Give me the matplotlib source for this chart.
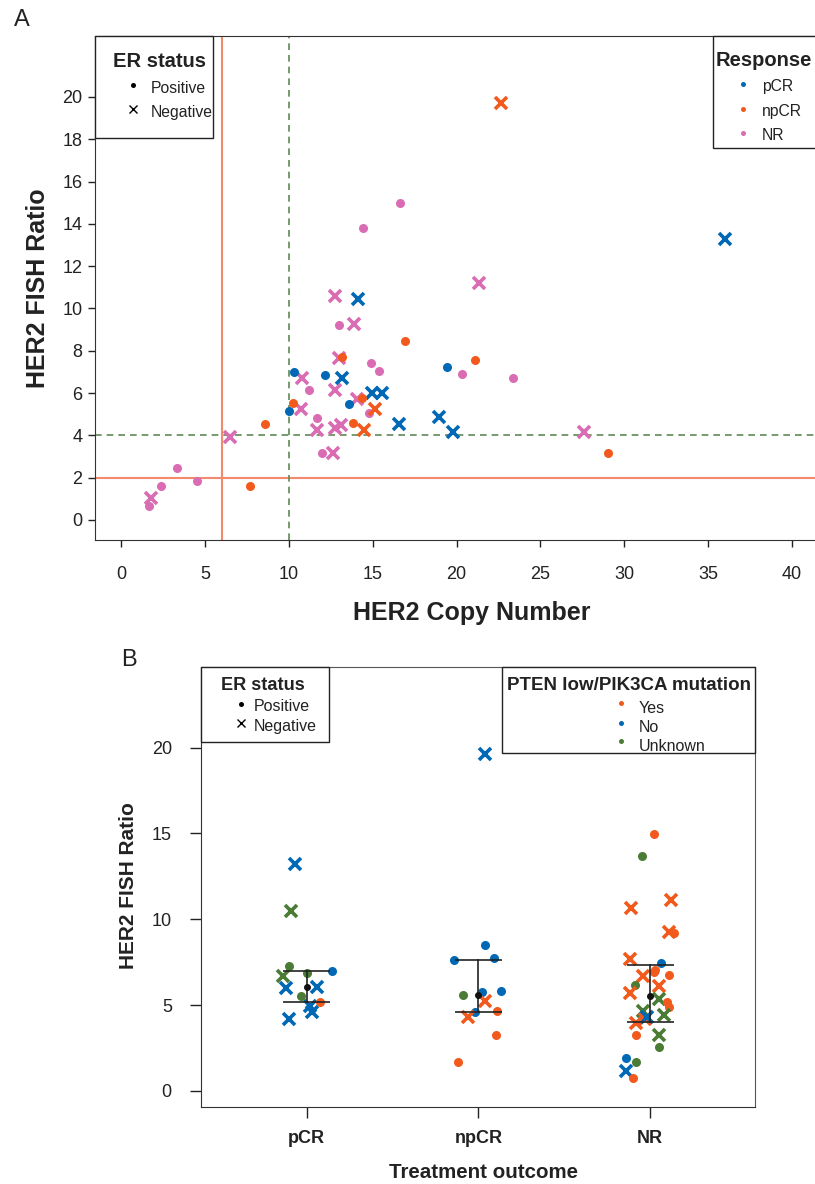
import matplotlib
matplotlib.use('Agg')
import matplotlib.pyplot as plt
from matplotlib.lines import Line2D
from matplotlib.patches import Rectangle
from matplotlib.transforms import Affine2D
import numpy as np

plt.rcParams['font.family'] = ['Liberation Sans', 'DejaVu Sans']

# ---- panel A: copy number vs FISH ratio ----
copy_number = [10.03, 10.31, 12.17, 13.59, 19.41,
               14.14, 13.17, 14.93, 15.55, 16.58, 18.97, 19.8, 35.97,
               7.71, 8.56, 10.27, 13.2, 14.34, 13.84, 16.9, 21.11, 29.04,
               15.16, 14.51, 22.65,
               14.44, 16.63, 13.0, 14.92, 15.39, 11.2, 14.8, 11.7, 11.96, 3.36, 2.4, 4.53, 1.69, 20.34, 23.36,
               12.75, 13.89, 13.0, 10.79, 12.75, 14.08, 10.7, 11.66, 12.77, 13.09, 12.65, 6.5, 1.77, 21.31, 27.59]
fish_ratio = [5.15, 6.97, 6.87, 5.47, 7.22,
              10.45, 6.71, 5.99, 6.02, 4.54, 4.86, 4.16, 13.29,
              1.58, 4.54, 5.52, 7.69, 5.75, 4.57, 8.46, 7.57, 3.15,
              5.26, 4.26, 19.73,
              13.79, 14.99, 9.22, 7.41, 7.06, 6.13, 5.07, 4.82, 3.18, 2.46, 1.58, 1.84, 0.65, 6.89, 6.70,
              10.6, 9.25, 7.64, 6.70, 6.15, 5.71, 5.26, 4.26, 4.35, 4.51, 3.15, 3.91, 1.05, 11.22, 4.18]
er_status = (['pos'] * 5 + ['neg'] * 8 + ['pos'] * 9 + ['neg'] * 3 + ['pos'] * 15 + ['neg'] * 15)
response = ['pCR'] * 13 + ['npCR'] * 12 + ['NR'] * 30

# ---- panel B: FISH ratio by treatment outcome (x = jittered group position) ----
outcomes = ['pCR', 'npCR', 'NR']
b_pos = [0.93, 0.91, 0.86, 0.88, 1.06, 1.02, 1.03, 0.90, 0.90, 1.00, 1.15, 0.97, 1.08,
         2.04, 2.04, 1.86, 2.09, 1.91, 2.02, 2.13, 2.04, 1.98, 2.11, 1.94, 2.10, 1.88,
         3.02, 2.95, 3.12, 2.89, 3.11, 3.14, 2.88, 3.06, 3.03, 3.02, 3.11, 2.96, 2.91, 3.05,
         2.88, 3.05, 3.10, 3.11, 2.96, 3.08, 2.97, 2.98, 2.92, 2.92, 3.05, 3.05, 2.86, 2.92, 2.86, 2.90]
b_ratio = [13.22, 10.5, 6.72, 6.02, 6.05, 4.92, 4.57, 4.18, 7.25, 6.88, 6.98, 5.52, 5.17,
           19.65, 8.49, 7.62, 7.74, 5.60, 5.75, 5.85, 5.21, 4.59, 4.65, 4.33, 3.25, 1.69,
           14.97, 13.70, 11.14, 10.63, 9.25, 9.21, 7.70, 7.45, 7.02, 6.90, 6.74, 6.71, 6.16, 6.14,
           5.68, 5.35, 5.17, 4.88, 4.66, 4.41, 4.20, 4.28, 3.98, 3.28, 3.25, 2.58, 1.94, 1.67, 1.17, 0.78]
b_er = ['neg'] * 8 + ['pos'] * 5 + \
       ['neg', 'pos', 'pos', 'pos', 'pos', 'pos', 'pos', 'neg', 'pos', 'pos', 'neg', 'pos', 'pos'] + \
       ['pos', 'pos', 'neg', 'neg', 'neg', 'pos', 'neg', 'pos', 'pos', 'pos', 'pos', 'neg', 'pos', 'neg',
        'neg', 'neg', 'pos', 'pos', 'neg', 'neg', 'neg', 'neg', 'neg', 'pos', 'neg', 'pos', 'pos', 'pos', 'neg', 'pos']
b_pten = ['No', 'Unknown', 'Unknown', 'No', 'No', 'No', 'No', 'No', 'Unknown', 'Unknown', 'No', 'Unknown', 'Yes',
          'No', 'No', 'No', 'No', 'Unknown', 'No', 'No', 'Yes', 'No', 'Yes', 'Yes', 'Yes', 'Yes',
          'Yes', 'Unknown', 'Yes', 'Yes', 'Yes', 'Yes', 'Yes', 'No', 'Yes', 'Yes', 'Yes', 'Yes', 'Unknown', 'Yes',
          'Yes', 'Unknown', 'Yes', 'Yes', 'Unknown', 'Unknown', 'Yes', 'No', 'Yes', 'Yes', 'Unknown', 'Unknown',
          'No', 'Unknown', 'No', 'Yes']
b_group = ['pCR'] * 13 + ['npCR'] * 13 + ['NR'] * 30
pten_levels = ['Yes', 'No', 'Unknown']
er_labels = ['Positive', 'Negative']

resp_colors = {'pCR': '#0068b5', 'npCR': '#f25a1d', 'NR': '#d96cb2'}
pten_colors = {'Yes': '#f25a1d', 'No': '#0068b5', 'Unknown': '#4a7c35'}

W, H = 815, 1184
fig = plt.figure(figsize=(W / 100, H / 100), dpi=100)
# pixel coordinates measured from the top-left corner of the figure
px = Affine2D().scale(1 / W, -1 / H).translate(0, 1) + fig.transFigure


def draw_point(ax, x, y, er, color):
    if er == 'pos':
        ax.plot(x, y, 'o', color=color, markersize=6.5, markeredgewidth=0)
    else:
        ax.plot(x, y, 'x', color=color, markersize=8.5, markeredgewidth=2.6)


def box_legend(box, title, title_pos, title_size, labels, markers, colors, mark_x, mark_y,
               text_x, text_y, text_size):
    x0, y0, x1, y1 = box
    fig.add_artist(Rectangle((x0, y0), x1 - x0, y1 - y0, transform=px, facecolor='white',
                             edgecolor='#222222', lw=1.0, zorder=10))
    fig.text(title_pos[0], title_pos[1], title, transform=px, fontsize=title_size,
             fontweight='bold', color='#222222', va='baseline', zorder=11)
    for lab, m, c, my, ty in zip(labels, markers, colors, mark_y, text_y):
        if m == 'o':
            fig.add_artist(Line2D([mark_x], [my], transform=px, marker='o', color=c,
                                  markersize=3.6, markeredgewidth=0, linestyle='', zorder=11))
        else:
            fig.add_artist(Line2D([mark_x], [my], transform=px, marker='x', color=c,
                                  markersize=5.5, markeredgewidth=1, linestyle='', zorder=11))
        fig.text(text_x, ty, lab, transform=px, fontsize=text_size, color='#222222',
                 va='baseline', zorder=11)


# ================= panel A =================
ax = fig.add_axes([95 / W, 1 - 540 / H, 725 / W, 504 / H])
ax.axvline(6, color='#f28a6b', lw=1.5, zorder=1)
ax.axhline(2, color='#f28a6b', lw=1.5, zorder=1)
ax.axvline(10, color='#5f8a55', lw=1.2, ls=(0, (4, 3)), zorder=1)
ax.axhline(4, color='#5f8a55', lw=1.2, ls=(0, (4, 3)), zorder=1)

for grp in ['NR', 'pCR', 'npCR']:
    for x, y, er, r in zip(copy_number, fish_ratio, er_status, response):
        if r == grp:
            draw_point(ax, x, y, er, resp_colors[r])

ax.set_xlim(-1.55, 41.66)
ax.set_ylim(-0.95, 22.88)
ax.set_xticks(np.arange(0, 41, 5))
ax.set_yticks(np.arange(0, 21, 2))
ax.tick_params(direction='out', length=5, width=1, labelsize=13, colors='#222222')
ax.tick_params(axis='x', pad=14)
ax.tick_params(axis='y', pad=4)
for s in ax.spines.values():
    s.set_color('#333333')
ax.set_xlabel('HER2 Copy Number', fontsize=18, fontweight='bold', color='#222222')
ax.set_ylabel('HER2 FISH Ratio', fontsize=18, fontweight='bold', color='#222222')
ax.xaxis.set_label_coords(0.52, -0.122)
ax.yaxis.set_label_coords(-0.062, 0.5)

box_legend((95, 36, 213, 138), 'ER status', (113, 67), 14.5, er_labels, ['o', 'x'],
           ['black', 'black'], 133, [85, 109], 151, [93, 116.5], 11.3)
box_legend((713, 36, 840, 148.3), 'Response', (716, 65.5), 14.5, outcomes, ['o', 'o', 'o'],
           [resp_colors[r] for r in outcomes], 743, [84.3, 108.7, 132.7], 762,
           [91.5, 116, 140], 11.3)

# ================= panel B =================
bx = fig.add_axes([201 / W, 1 - 1106.7 / H, 554 / W, 439.7 / H])
for x, y, er, p in zip(b_pos, b_ratio, b_er, b_pten):
    draw_point(bx, x, y, er, pten_colors[p])

for i, g in enumerate(outcomes, start=1):
    vals = np.array([v for v, gg in zip(b_ratio, b_group) if gg == g])
    q1, med, q3 = np.percentile(vals, [25, 50, 75])
    bx.plot([i, i], [q1, q3], color='#222222', lw=1.4, zorder=5, alpha=0.85)
    bx.plot([i - 0.13, i + 0.13], [q1, q1], color='#222222', lw=1.4, zorder=5, alpha=0.85)
    bx.plot([i - 0.13, i + 0.13], [q3, q3], color='#222222', lw=1.4, zorder=5, alpha=0.85)
    bx.plot(i, med, 'o', color='#111111', markersize=4, zorder=6)

bx.set_xlim(0.385, 3.61)
bx.set_ylim(-0.92, 24.7)
bx.set_xticks([1, 2, 3])
bx.set_xticklabels(outcomes, fontweight='bold')
bx.set_yticks([0, 5, 10, 15, 20])
bx.tick_params(direction='out', length=8, width=1, labelsize=13, colors='#222222')
bx.tick_params(axis='x', pad=9)
bx.tick_params(axis='y', pad=13)
for s in bx.spines.values():
    s.set_color('#333333')
for s in ['top', 'right']:
    bx.spines[s].set_color('#555555')
    bx.spines[s].set_linewidth(0.8)
bx.set_xlabel('Treatment outcome', fontsize=14.8, fontweight='bold', color='#222222')
bx.set_ylabel('HER2 FISH Ratio', fontsize=15, fontweight='bold', color='#222222')
bx.xaxis.set_label_coords(0.51, -0.128)
bx.yaxis.set_label_coords(-0.114, 0.504)

box_legend((201, 667, 329, 742), 'ER status', (221, 690), 13.1, er_labels, ['o', 'x'],
           ['black', 'black'], 241, [704, 723.3], 254, [711, 731.5], 11.5)
box_legend((502, 667, 755, 753), 'PTEN low/PIK3CA mutation', (507, 690.5), 13.5, pten_levels,
           ['o', 'o', 'o'], [pten_colors[p] for p in pten_levels], 621, [703.3, 722.7, 741],
           639, [713, 731.7, 750.7], 11.5)

fig.text(22, 20, 'A', transform=px, fontsize=17, ha='center', va='center', color='#222222')
fig.text(129, 660, 'B', transform=px, fontsize=17, ha='center', va='center', color='#222222')

fig.savefig('out.png', dpi=100)
